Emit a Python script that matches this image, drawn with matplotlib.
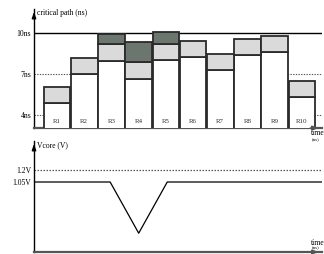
import matplotlib
matplotlib.use("Agg")
import matplotlib.pyplot as plt

plt.rcParams['font.family'] = ['Liberation Serif', 'DejaVu Serif']

# ---- data ----
regions = ["R1", "R2", "R3", "R4", "R5", "R6", "R7", "R8", "R9", "R10"]
base_ns = [4.88, 7.00, 7.95, 6.63, 8.02, 8.24, 7.30, 8.39, 8.60, 5.32]
light_ns = [1.17, 1.17, 1.25, 1.25, 1.18, 1.18, 1.16, 1.17, 1.18, 1.17]
dark_ns = [0.0, 0.0, 0.73, 1.46, 0.87, 0.0, 0.0, 0.0, 0.0, 0.0]
ns_ticks = [4, 7, 10]
ns_ticklabels = ["4ns", "7ns", "10ns"]

v_time = [0.15, 2.95, 4.0, 5.05, 10.74]
v_core = [1.05, 1.05, 0.41, 1.05, 1.05]
v_ticks = [1.05, 1.2]
v_ticklabels = ["1.05V", "1.2V"]

W, H = 324, 254
fig = plt.figure(figsize=(W / 100, H / 100), dpi=100)

def px_axes(x0, x1, ytop, ybot):
    return fig.add_axes([x0 / W, 1 - ybot / H, (x1 - x0) / W, (ybot - ytop) / H])

X0, X1 = 34, 322
xlim = (0.15, 10.74)
fs = 5.5

# ---- top panel ----
ax = px_axes(X0, X1, 9, 128)
ax.set_xlim(*xlim)
ax.set_ylim(3.05, 11.75)
for s in ["top", "right"]:
    ax.spines[s].set_visible(False)
ax.spines["left"].set_linewidth(1.0)
ax.spines["bottom"].set_linewidth(1.6)
ax.spines["bottom"].set_color("#555555")
ax.set_xticks([])
ax.set_yticks(ns_ticks)
ax.set_yticklabels(ns_ticklabels, fontsize=fs)
ax.tick_params(axis="y", length=0, pad=2)

ax.axhline(10, color="black", lw=1.0, zorder=1)
for t in [4, 7]:
    ax.axhline(t, color="#555555", lw=0.8, ls=(0, (1.2, 1.2)), zorder=1)

xs = list(range(1, len(regions) + 1))
ec = "#2a2a2a"
ax.bar(xs, base_ns, bottom=0, width=0.98, color="white", edgecolor=ec, lw=1.3, zorder=3)
tops1 = [b + l for b, l in zip(base_ns, light_ns)]
ax.bar(xs, light_ns, bottom=base_ns, width=0.98, color="#dadada", edgecolor=ec, lw=1.3, zorder=3)
dk_x = [x for x, d in zip(xs, dark_ns) if d > 0]
dk_h = [d for d in dark_ns if d > 0]
dk_b = [t for t, d in zip(tops1, dark_ns) if d > 0]
ax.bar(dk_x, dk_h, bottom=dk_b, width=0.98, color="#6b766f", edgecolor=ec, lw=1.3, zorder=3)
for x, r in zip(xs, regions):
    ax.text(x, 3.5, r, ha="center", va="center", fontsize=5, color="#333333", zorder=4)

ax.annotate("", xy=(0, 1.0), xytext=(0, 0.9), xycoords="axes fraction",
            arrowprops=dict(arrowstyle="-|>,head_width=0.12,head_length=0.35", color="black", lw=1.0))
ax.annotate("", xy=(1.0, 0), xytext=(0.95, 0), xycoords="axes fraction",
            arrowprops=dict(arrowstyle="-|>,head_width=0.12,head_length=0.35", color="#555555", lw=1.2))
fig.text(37 / W, 1 - 13 / H, "critical path (ns)", fontsize=fs, va="center", ha="left")
fig.text(311 / W, 1 - 133 / H, "time", fontsize=fs, va="center", ha="left")
fig.text(312 / W, 1 - 140.5 / H, "(ns)", fontsize=3.5, va="center", ha="left")

# ---- bottom panel ----
bx = px_axes(X0, X1, 141, 252)
bx.set_xlim(*xlim)
bx.set_ylim(0.175, 1.5625)
for s in ["top", "right"]:
    bx.spines[s].set_visible(False)
bx.spines["left"].set_linewidth(1.0)
bx.spines["bottom"].set_linewidth(1.6)
bx.spines["bottom"].set_color("#555555")
bx.set_xticks([])
bx.set_yticks(v_ticks)
bx.set_yticklabels(v_ticklabels, fontsize=fs)
bx.tick_params(axis="y", length=0, pad=2)
bx.axhline(1.2, color="#555555", lw=0.9, ls=(0, (1.2, 1.2)))
bx.plot(v_time, v_core, color="black", lw=0.9)
bx.annotate("", xy=(0, 1.0), xytext=(0, 0.9), xycoords="axes fraction",
            arrowprops=dict(arrowstyle="-|>,head_width=0.12,head_length=0.35", color="black", lw=1.0))
bx.annotate("", xy=(1.0, 0), xytext=(0.95, 0), xycoords="axes fraction",
            arrowprops=dict(arrowstyle="-|>,head_width=0.12,head_length=0.35", color="#555555", lw=1.2))
fig.text(37 / W, 1 - 145 / H, "Vcore (V)", fontsize=fs, va="center", ha="left")
fig.text(311 / W, 1 - 243 / H, "time", fontsize=fs, va="center", ha="left")
fig.text(312 / W, 1 - 248.5 / H, "(ns)", fontsize=3.5, va="center", ha="left")

fig.savefig("out.png", dpi=100)
